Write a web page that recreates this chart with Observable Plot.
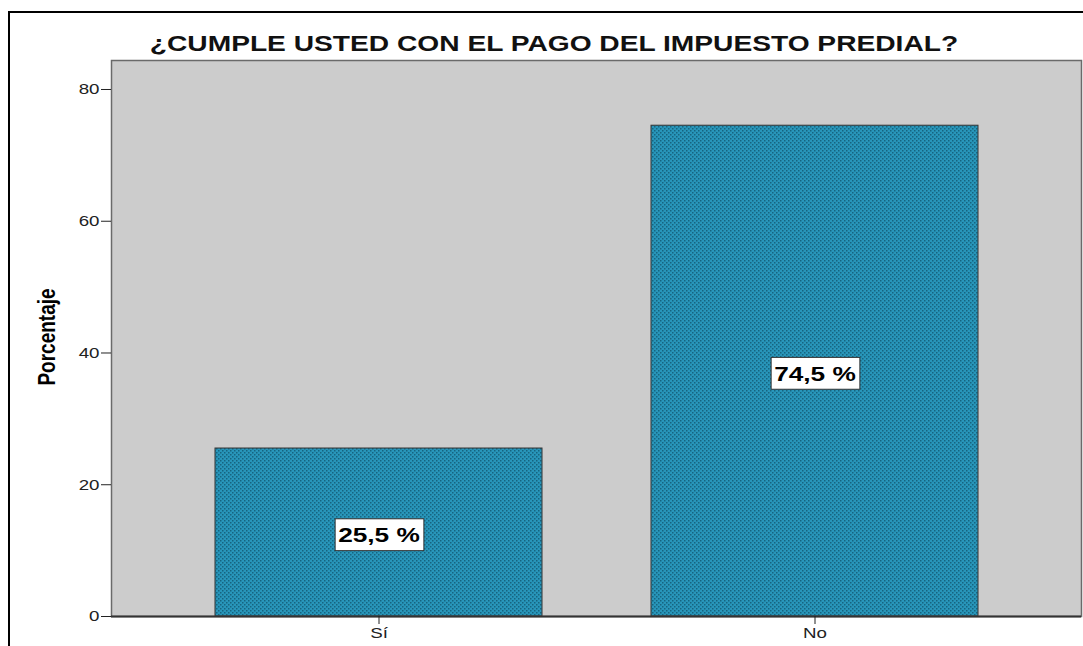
<!DOCTYPE html>
<html><head><meta charset="utf-8">
<script src="https://cdn.jsdelivr.net/npm/d3@7"></script>
<script src="https://cdn.jsdelivr.net/npm/@observablehq/plot@0.6"></script>
<style>
body{margin:0;background:#fff;}
#wrap{position:relative;width:1083px;height:646px;overflow:hidden;font-family:"Liberation Sans",Arial,sans-serif;}
#outer{position:absolute;left:8px;top:11px;width:2000px;height:2000px;border-left:2px solid #000;border-top:2px solid #000;box-sizing:border-box;}
#title{position:absolute;left:554px;top:33px;font-size:22px;font-weight:bold;line-height:22px;white-space:nowrap;transform:translateX(-50%) scaleX(1.28);color:#111;}
#ylab{position:absolute;left:47px;top:337px;font-size:19px;font-weight:bold;line-height:19px;white-space:nowrap;transform:translate(-50%,-50%) rotate(-90deg) scaleY(1.28);color:#000;}
#chart{position:absolute;left:0;top:0;}
</style></head>
<body><div id="wrap"><div id="outer"></div><div id="chart"></div><div id="title"></div><div id="ylab"></div></div>
<script>
const titleText = "¿CUMPLE USTED CON EL PAGO DEL IMPUESTO PREDIAL?";
const yLabel = "Porcentaje";
const categories = ["Sí", "No"];
const percentages = [25.5, 74.5];
const valueLabels = ["25,5 %", "74,5 %"];
const yTicks = [0, 20, 40, 60, 80];

const data = categories.map((c, i) => ({cat: c, pct: percentages[i], label: valueLabels[i]}));

document.getElementById("title").textContent = titleText;
document.getElementById("ylab").textContent = yLabel;

const svg = Plot.plot({
  width: 1083, height: 646,
  marginLeft: 111, marginRight: 2, marginTop: 60, marginBottom: 30,
  style: {fontFamily: "Liberation Sans, Arial, sans-serif", fontSize: "15px", background: "transparent", overflow: "visible", color: "#222"},
  x: {domain: categories, paddingInner: 0.25, paddingOuter: 0.235, label: null},
  y: {domain: [0, 84.4], label: null},
  marks: [
    Plot.frame({fill: "#cccccc", stroke: null}),
    Plot.barY(data, {x: "cat", y: "pct", fill: "url(#dotpat)", stroke: "#333", strokeWidth: 1}),
    Plot.frame({stroke: "#6a6a6a", strokeWidth: 1.5}),
    Plot.ruleY([0], {stroke: "#333", strokeWidth: 2}),
    Plot.axisY(yTicks, {tickSize: 10, tickPadding: 2, label: null, stroke: "#222", fill: "#222", fontSize: 15}),
    Plot.axisX({tickSize: 8, tickPadding: 3, label: null, stroke: "#222", fill: "#222", fontSize: 15}),
    Plot.text(data, {x: "cat", y: d => d.pct / 2, text: "label", fontSize: 21, fontWeight: "bold", fill: "#000", dy: 3})
  ]
});
document.getElementById("chart").appendChild(svg);

// pattern for bars
const ns = "http://www.w3.org/2000/svg";
const defs = document.createElementNS(ns, "defs");
defs.innerHTML = '<pattern id="dotpat" patternUnits="userSpaceOnUse" width="4" height="4">' +
  '<rect width="4" height="4" fill="#2896ba"/>' +
  '<rect x="0" y="0" width="1.5" height="1.5" fill="#166580"/>' +
  '<rect x="2" y="2" width="1.5" height="1.5" fill="#166580"/></pattern>';
svg.insertBefore(defs, svg.firstChild);

// horizontal stretch of text like the reference
svg.querySelectorAll("text").forEach(t => {
  const tr = t.getAttribute("transform");
  if (tr) t.setAttribute("transform", tr + " scale(1.25,1)");
  else {
    const x = +(t.getAttribute("x") || 0), y = +(t.getAttribute("y") || 0);
    t.removeAttribute("x"); t.removeAttribute("y");
    t.setAttribute("transform", `translate(${x},${y}) scale(1.25,1)`);
  }
});

// white boxes behind value labels
const sr = svg.getBoundingClientRect();
svg.querySelectorAll('g[aria-label="text"]').forEach(g => {
  const boxG = document.createElementNS(ns, "g");
  g.querySelectorAll("text").forEach(t => {
    const r = t.getBoundingClientRect();
    const rect = document.createElementNS(ns, "rect");
    rect.setAttribute("x", r.left - sr.left - 3);
    rect.setAttribute("y", r.top - sr.top - 4);
    rect.setAttribute("width", r.width + 7);
    rect.setAttribute("height", r.height + 8);
    rect.setAttribute("fill", "#fff");
    rect.setAttribute("stroke", "#333");
    rect.setAttribute("stroke-width", 1);
    boxG.appendChild(rect);
  });
  g.parentNode.insertBefore(boxG, g);
});
</script>
</body></html>
